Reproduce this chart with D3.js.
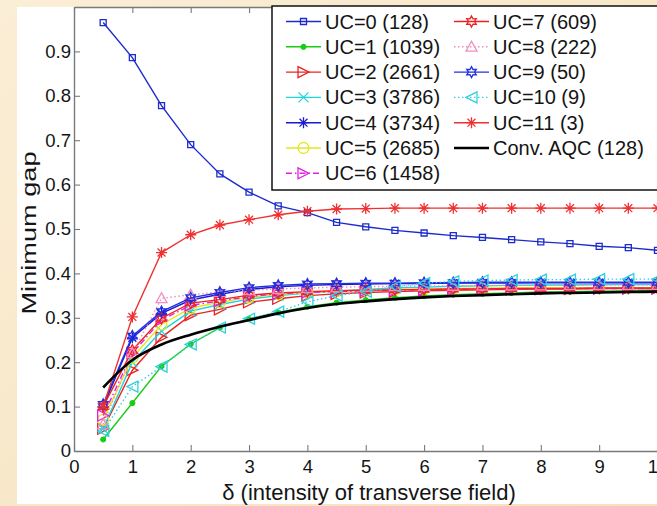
<!DOCTYPE html>
<html>
<head>
<meta charset="utf-8">
<script src="https://cdn.jsdelivr.net/npm/d3@7"></script>
<style>
  body { margin: 0; padding: 0; overflow: hidden; }
  svg { display: block; font-family: "Liberation Sans", Arial, Helvetica, sans-serif; }
</style>
</head>
<body>
<div id="chart"></div>
<script>
// data (delta = 0.5 ... 10 in steps of 0.5)
const xVals = [0.5,1,1.5,2,2.5,3,3.5,4,4.5,5,5.5,6,6.5,7,7.5,8,8.5,9,9.5,10];

const uc0  = [0.965,0.886,0.778,0.690,0.624,0.583,0.552,0.537,0.515,0.505,0.497,0.491,0.485,0.481,0.476,0.471,0.467,0.461,0.458,0.452];
const uc1  = [0.026,0.108,0.191,0.241,0.278,0.297,0.312,0.325,0.334,0.340,0.345,0.349,0.352,0.354,0.356,0.358,0.359,0.360,0.361,0.362];
const uc2  = [0.050,0.182,0.256,0.306,0.319,0.335,0.343,0.350,0.354,0.357,0.359,0.361,0.362,0.363,0.364,0.365,0.365,0.366,0.366,0.366];
const uc3  = [0.050,0.200,0.270,0.315,0.330,0.342,0.350,0.356,0.360,0.364,0.367,0.369,0.371,0.372,0.373,0.374,0.374,0.375,0.375,0.375];
const uc4  = [0.100,0.255,0.310,0.340,0.353,0.364,0.370,0.373,0.375,0.376,0.377,0.377,0.378,0.378,0.378,0.379,0.379,0.379,0.379,0.379];
const uc5  = [0.070,0.210,0.285,0.322,0.335,0.346,0.353,0.357,0.360,0.362,0.364,0.365,0.366,0.367,0.367,0.368,0.368,0.368,0.368,0.368];
const uc6  = [0.080,0.220,0.295,0.328,0.338,0.348,0.354,0.357,0.359,0.361,0.362,0.363,0.364,0.364,0.365,0.365,0.366,0.366,0.366,0.366];
const uc7  = [0.100,0.227,0.299,0.333,0.341,0.351,0.356,0.359,0.361,0.362,0.363,0.364,0.365,0.365,0.366,0.366,0.366,0.367,0.367,0.367];
const uc8  = [0.060,0.220,0.344,0.352,0.358,0.362,0.365,0.367,0.369,0.370,0.371,0.372,0.372,0.373,0.373,0.373,0.374,0.374,0.374,0.374];
const uc9  = [0.105,0.259,0.314,0.345,0.357,0.368,0.373,0.376,0.377,0.378,0.378,0.379,0.379,0.380,0.380,0.380,0.380,0.380,0.380,0.380];
const uc10 = [0.045,0.145,0.190,0.240,0.278,0.298,0.314,0.336,0.350,0.359,0.370,0.378,0.382,0.384,0.385,0.386,0.386,0.387,0.387,0.387];
const uc11 = [0.100,0.302,0.447,0.487,0.509,0.521,0.532,0.540,0.545,0.546,0.547,0.547,0.547,0.547,0.547,0.547,0.547,0.547,0.547,0.547];
const convAQC = [0.143,0.205,0.240,0.262,0.280,0.295,0.310,0.322,0.331,0.337,0.342,0.346,0.349,0.351,0.353,0.355,0.356,0.357,0.358,0.359];

const seriesNames = ["UC=0 (128)","UC=1 (1039)","UC=2 (2661)","UC=3 (3786)","UC=4 (3734)","UC=5 (2685)","UC=6 (1458)",
                     "UC=7 (609)","UC=8 (222)","UC=9 (50)","UC=10 (9)","UC=11 (3)"];
const convName = "Conv. AQC (128)";

const xTicks = [0,1,2,3,4,5,6,7,8,9,10];
const yTicks = [0,0.1,0.2,0.3,0.4,0.5,0.6,0.7,0.8,0.9];

// styles (matlab-ish)
const styles = [
  {color:"#1c2ccc", marker:"square",   dash:null},
  {color:"#18cc18", marker:"dot",      dash:null},
  {color:"#e82424", marker:"triRight", dash:null},
  {color:"#1ed4dc", marker:"x",        dash:null},
  {color:"#1a1ad0", marker:"asterisk", dash:null},
  {color:"#e6e61e", marker:"circle",   dash:null},
  {color:"#e020e0", marker:"triRight", dash:"6,3,1.5,3"},
  {color:"#ee2020", marker:"hexagram", dash:null},
  {color:"#f08cc0", marker:"triUp",    dash:"1.5,2.5"},
  {color:"#2030e0", marker:"hexagram", dash:null},
  {color:"#30d0e0", marker:"triLeft",  dash:"1.5,2.5"},
  {color:"#f03030", marker:"asterisk", dash:null}
];
const allSeries = [uc0,uc1,uc2,uc3,uc4,uc5,uc6,uc7,uc8,uc9,uc10,uc11];

function markerPath(kind) {
  let r;
  switch (kind) {
    case "square": r = 3; return `M${-r},${-r}h${2*r}v${2*r}h${-2*r}Z`;
    case "dot": r = 2.4; return `M${r},0A${r},${r} 0 1,1 ${-r},0A${r},${r} 0 1,1 ${r},0Z`;
    case "circle": r = 5.5; return `M${r},0A${r},${r} 0 1,1 ${-r},0A${r},${r} 0 1,1 ${r},0Z`;
    case "triRight": r = 5.5; return `M${r},0L${-r},${-r}L${-r},${r}Z`;
    case "triLeft": r = 5.5; return `M${-r},0L${r},${-r}L${r},${r}Z`;
    case "triUp": r = 5.5; return `M0,${-r}L${r},${r*0.8}L${-r},${r*0.8}Z`;
    case "x": r = 5; return `M${-r},${-r}L${r},${r}M${-r},${r}L${r},${-r}`;
    case "asterisk": {
      r = 5.5; const d = r*0.72;
      return `M0,${-r}V${r}M${-r},0H${r}M${-d},${-d}L${d},${d}M${-d},${d}L${d},${-d}`;
    }
    case "hexagram": {
      r = 5.5; const pts = [];
      for (let i = 0; i < 12; i++) {
        const a = -Math.PI/2 + i*Math.PI/6, rr = i % 2 ? r*0.55 : r;
        pts.push([rr*Math.cos(a), rr*Math.sin(a)]);
      }
      return "M" + pts.map(p => p[0].toFixed(2)+","+p[1].toFixed(2)).join("L") + "Z";
    }
  }
}

const W = 657, H = 506;
const svg = d3.select("#chart").append("svg").attr("width", W).attr("height", H);

// slide background
const grad = svg.append("defs").append("linearGradient").attr("id","bg")
  .attr("x1","0").attr("y1","0").attr("x2","1").attr("y2","1");
grad.append("stop").attr("offset","0%").attr("stop-color","#fbeed6");
grad.append("stop").attr("offset","100%").attr("stop-color","#f5e2bd");
svg.append("rect").attr("width", W).attr("height", H).attr("fill","url(#bg)");
svg.append("rect").attr("x",17).attr("y",7).attr("width",W-17).attr("height",H-9).attr("fill","#fff");

const x = d3.scaleLinear().domain([0,10]).range([74, 657.5]);
const y = d3.scaleLinear().domain([0,1]).range([451, 7]);

svg.select("defs").append("clipPath").attr("id","plotclip")
  .append("rect").attr("x",74).attr("y",7).attr("width",W-74).attr("height",444);

const axisColor = "#7a7a7a";

// bottom axis
const gx = svg.append("g").attr("transform","translate(0,451)")
  .call(d3.axisBottom(x).tickValues(xTicks).tickFormat(d3.format("d")).tickSizeInner(-6).tickSizeOuter(0).tickPadding(9));
// left axis
const gy = svg.append("g").attr("transform","translate(74,0)")
  .call(d3.axisLeft(y).tickValues(yTicks).tickFormat(d => d === 0 ? "0" : d3.format(".1f")(d)).tickSizeInner(-6).tickSizeOuter(0).tickPadding(3));
// top axis (ticks only)
const gt = svg.append("g").attr("transform","translate(0,7)")
  .call(d3.axisTop(x).tickValues(xTicks).tickFormat("").tickSizeInner(-6).tickSizeOuter(0));

[gx, gy, gt].forEach(g => {
  g.select(".domain").attr("stroke", axisColor).attr("stroke-width", 1.4);
  g.selectAll(".tick line").attr("stroke", axisColor).attr("stroke-width", 1.1);
  g.selectAll("text").attr("fill","#141414").attr("font-size","18.5px")
    .attr("font-family","'Liberation Sans', Arial, sans-serif");
});

// axis titles
svg.append("text").attr("x", 369).attr("y", 500).attr("text-anchor","middle")
  .attr("font-size","22px").attr("fill","#141414")
  .text("δ (intensity of transverse field)");
svg.append("text").attr("transform","translate(36,233) rotate(-90)").attr("text-anchor","middle")
  .attr("font-size","21px").attr("fill","#141414")
  .attr("textLength",163).attr("lengthAdjust","spacingAndGlyphs")
  .text("Minimum gap");

// plot series
const plot = svg.append("g").attr("clip-path","url(#plotclip)");
const line = d3.line().x((d,i) => x(xVals[i])).y(d => y(d));

allSeries.forEach((vals, k) => {
  const st = styles[k];
  const g = plot.append("g");
  g.append("path").datum(vals).attr("d", line)
    .attr("fill","none").attr("stroke", st.color).attr("stroke-width", 1.4)
    .attr("stroke-dasharray", st.dash);
  g.selectAll("path.mk").data(vals).enter().append("path").attr("class","mk")
    .attr("transform", (d,i) => `translate(${x(xVals[i])},${y(d)})`)
    .attr("d", markerPath(st.marker))
    .attr("fill", st.marker === "dot" ? st.color : "none")
    .attr("stroke", st.color).attr("stroke-width", 1.3);
});

plot.append("path").datum(convAQC)
  .attr("d", d3.line().x((d,i) => x(xVals[i])).y(d => y(d)).curve(d3.curveMonotoneX))
  .attr("fill","none").attr("stroke","#000").attr("stroke-width",2.6);

// legend
const leg = svg.append("g");
leg.append("rect").attr("x",272).attr("y",6).attr("width",400).attr("height",184)
  .attr("fill","#fff").attr("stroke","#111").attr("stroke-width",1.5);

const legItems = seriesNames.map((n,k) => ({name:n, style:styles[k]}));
legItems.push({name: convName, style: {color:"#000", marker:null, dash:null, width:2.6}});

legItems.forEach((it, k) => {
  const col = k < 7 ? 0 : 1;
  const row = k < 7 ? k : k - 7;
  const x0 = col === 0 ? 286 : 454;
  const cy = 21.5 + row * 25.3;
  const g = leg.append("g");
  g.append("line").attr("x1", x0).attr("x2", x0 + 35).attr("y1", cy).attr("y2", cy)
    .attr("stroke", it.style.color).attr("stroke-width", it.style.width || 1.4)
    .attr("stroke-dasharray", it.style.dash);
  if (it.style.marker) {
    g.append("path").attr("transform", `translate(${x0 + 17.5},${cy})`)
      .attr("d", markerPath(it.style.marker))
      .attr("fill", it.style.marker === "dot" ? it.style.color : "none")
      .attr("stroke", it.style.color).attr("stroke-width", 1.3);
  }
  g.append("text").attr("x", x0 + 39).attr("y", cy + 7).attr("font-size","20px")
    .attr("fill","#141414").text(it.name);
});
</script>
</body>
</html>
